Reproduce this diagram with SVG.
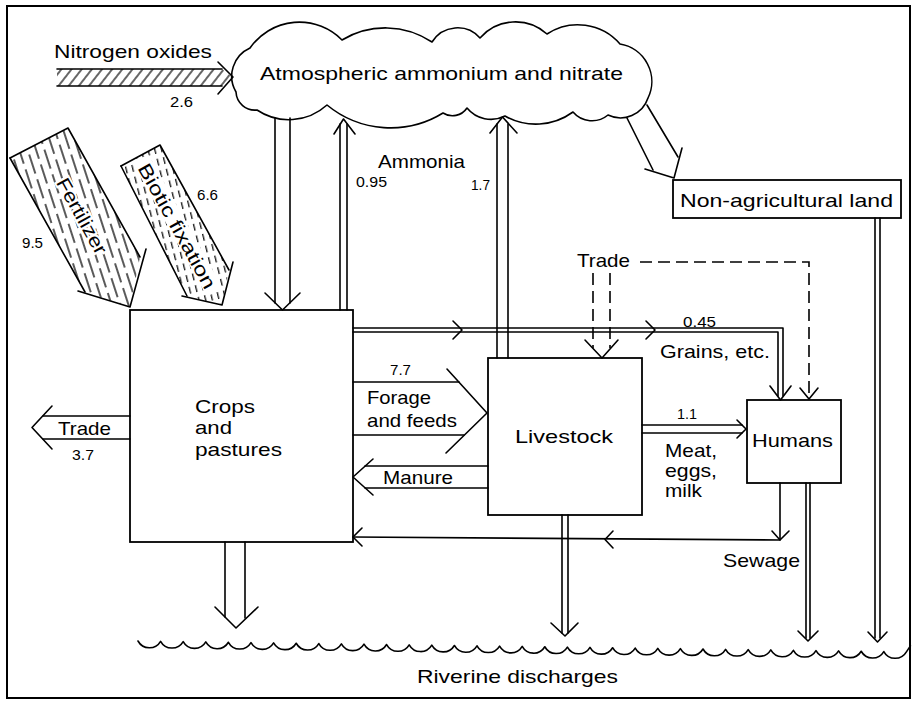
<svg xmlns="http://www.w3.org/2000/svg" width="915" height="708" viewBox="0 0 915 708">
<style>
.ln{stroke:#000;stroke-width:1.6;fill:none;stroke-linecap:round;stroke-linejoin:round}
.bx{stroke:#000;stroke-width:1.8;fill:#fff}
.ds{stroke:#000;stroke-width:1.6;fill:none;stroke-dasharray:12 6}
text{font-family:"Liberation Sans",Arial,Helvetica,sans-serif;fill:#000}
.lb{font-size:19px}
.nm{font-size:14px}
</style>
<defs>
<pattern id="hNO" patternUnits="userSpaceOnUse" width="8" height="20" patternTransform="rotate(38)">
<line x1="3" y1="0" x2="3" y2="20" stroke="#000" stroke-width="1.2"/>
</pattern>
<pattern id="hF" patternUnits="userSpaceOnUse" width="26" height="16" patternTransform="rotate(72)">
<line x1="0" y1="4" x2="20" y2="4" stroke="#000" stroke-width="1.3"/>
<line x1="13" y1="12" x2="26" y2="12" stroke="#000" stroke-width="1.3"/>
<line x1="0" y1="12" x2="7" y2="12" stroke="#000" stroke-width="1.3"/>
</pattern>
<pattern id="hB" patternUnits="userSpaceOnUse" width="12" height="6.5" patternTransform="rotate(76)">
<line x1="0" y1="3" x2="7" y2="3" stroke="#000" stroke-width="1.2"/>
</pattern>
</defs>
<rect x="0" y="0" width="915" height="708" fill="#fff"/>
<rect x="7" y="6" width="903" height="692" fill="none" stroke="#000" stroke-width="2"/>

<g id="atmosphere">
<path class="ln" fill="#fff" d="M236,92 A31,31 0 0 1 250,48 A60,60 0 0 1 342,40 A84,84 0 0 1 432,42 A30,30 0 0 1 480,38 A47,47 0 0 1 547,34 A56,56 0 0 1 620,44 A38,38 0 0 1 648,98 A29,29 0 0 1 608,115 A25,25 0 0 1 573,112 A63,63 0 0 1 505,116 A31,31 0 0 1 467,108 A17.5,17.5 0 0 1 443,113 A100,100 0 0 1 327,105 A57,57 0 0 1 257,110 A19,19 0 0 1 236,92 Z"/>
<text class="lb" x="260" y="80" textLength="363" lengthAdjust="spacingAndGlyphs">Atmospheric ammonium and nitrate</text>
</g>

<g id="crops">
<rect class="bx" x="130" y="310" width="223" height="232"/>
<text class="lb" x="195" y="413" textLength="60" lengthAdjust="spacingAndGlyphs">Crops</text>
<text class="lb" x="195" y="434" textLength="37" lengthAdjust="spacingAndGlyphs">and</text>
<text class="lb" x="195" y="456" textLength="87" lengthAdjust="spacingAndGlyphs">pastures</text>
</g>

<g id="livestock">
<rect class="bx" x="488" y="358" width="154" height="157"/>
<text class="lb" x="515" y="443" textLength="98" lengthAdjust="spacingAndGlyphs">Livestock</text>
</g>

<g id="humans">
<rect class="bx" x="747" y="400" width="94" height="83"/>
<text class="lb" x="752" y="447" textLength="81" lengthAdjust="spacingAndGlyphs">Humans</text>
</g>

<g id="nonag">
<rect class="bx" x="673" y="180" width="228" height="38"/>
<text class="lb" x="680" y="207" textLength="213" lengthAdjust="spacingAndGlyphs">Non-agricultural land</text>
</g>

<g id="riverine">
<path class="ln" d="M138,641 a13,13 0 0 0 22.6,0.32 a13,13 0 0 0 22.6,0.32 a13,13 0 0 0 22.6,0.32 a13,13 0 0 0 22.6,0.32 a13,13 0 0 0 22.6,0.32 a13,13 0 0 0 22.6,0.32 a13,13 0 0 0 22.6,0.32 a13,13 0 0 0 22.6,0.32 a13,13 0 0 0 22.6,0.32 a13,13 0 0 0 22.6,0.32 a13,13 0 0 0 22.6,0.32 a13,13 0 0 0 22.6,0.32 a13,13 0 0 0 22.6,0.32 a13,13 0 0 0 22.6,0.32 a13,13 0 0 0 22.6,0.32 a13,13 0 0 0 22.6,0.32 a13,13 0 0 0 22.6,0.32 a13,13 0 0 0 22.6,0.32 a13,13 0 0 0 22.6,0.32 a13,13 0 0 0 22.6,0.32 a13,13 0 0 0 22.6,0.32 a13,13 0 0 0 22.6,0.32 a13,13 0 0 0 22.6,0.32 a13,13 0 0 0 22.6,0.32 a13,13 0 0 0 22.6,0.32 a13,13 0 0 0 22.6,0.32 a13,13 0 0 0 22.6,0.32 a13,13 0 0 0 22.6,0.32 a13,13 0 0 0 22.6,0.32 a13,13 0 0 0 22.6,0.32 a13,13 0 0 0 22.6,0.32 a13,13 0 0 0 22.6,0.32 a13,13 0 0 0 22.6,0.32 a13,13 0 0 0 22.6,0.32 l4,-6"/>
<text class="lb" x="417" y="683" textLength="201" lengthAdjust="spacingAndGlyphs">Riverine discharges</text>
</g>

<g id="connectors">
<!-- Nitrogen oxides -->
<polygon points="57,69 222,69 232,77 222,86 57,86" fill="url(#hNO)" stroke="none"/>
<polyline class="ln" points="57,69 222,69"/>
<polyline class="ln" points="57,86 222,86"/>
<polyline class="ln" points="218,62 233,77 218,94"/>
<text class="lb" x="54" y="58" textLength="158" lengthAdjust="spacingAndGlyphs">Nitrogen oxides</text>
<text class="nm" x="170" y="107" textLength="23" lengthAdjust="spacingAndGlyphs">2.6</text>

<!-- Fertilizer -->
<polygon points="10,158 68,128 140,257 130,307 85,292" fill="url(#hF)" stroke="none"/>
<polyline class="ln" points="10,158 68,128 140,257"/>
<polyline class="ln" points="10,158 85,292"/>
<polyline class="ln" points="146,249 130,307 78,291"/>
<text class="lb" transform="translate(82,216) rotate(61)" text-anchor="middle" dy="0.35em" textLength="84" lengthAdjust="spacingAndGlyphs" stroke="#fff" stroke-width="4" paint-order="stroke">Fertilizer</text>
<text class="nm" x="22" y="248" textLength="21" lengthAdjust="spacingAndGlyphs">9.5</text>

<!-- Biotic fixation -->
<polygon points="121,166 160,145 229,270 222,305 187,296" fill="url(#hB)" stroke="none"/>
<rect x="-76" y="-9" width="152" height="18" fill="#fff" transform="translate(178,226) rotate(61)"/>
<polyline class="ln" points="121,166 160,145 229,270"/>
<polyline class="ln" points="121,166 187,296"/>
<polyline class="ln" points="233,262 222,305 182,296"/>
<text class="lb" transform="translate(177,226) rotate(61)" text-anchor="middle" dy="0.35em" textLength="140" lengthAdjust="spacingAndGlyphs">Biotic fixation</text>
<text class="nm" x="197" y="200" textLength="21" lengthAdjust="spacingAndGlyphs">6.6</text>

<!-- Atmosphere to crops -->
<line class="ln" x1="275" y1="118" x2="275" y2="303"/>
<line class="ln" x1="290" y1="118" x2="290" y2="303"/>
<polyline class="ln" points="265,293 282.5,310 300,293"/>

<!-- Ammonia from crops 0.95 -->
<line class="ln" x1="340" y1="310" x2="340" y2="124"/>
<line class="ln" x1="347" y1="310" x2="347" y2="124"/>
<polyline class="ln" points="334,134 343.5,119 355,134"/>
<text class="lb" x="378" y="168" textLength="87" lengthAdjust="spacingAndGlyphs">Ammonia</text>
<text class="nm" x="356" y="187" textLength="31" lengthAdjust="spacingAndGlyphs">0.95</text>

<!-- Ammonia from livestock 1.7 -->
<line class="ln" x1="497" y1="358" x2="497" y2="124"/>
<line class="ln" x1="508" y1="358" x2="508" y2="124"/>
<polyline class="ln" points="490,133 502.5,117 517,133"/>
<text class="nm" x="471" y="190" textLength="19" lengthAdjust="spacingAndGlyphs">1.7</text>

<!-- Atmosphere to non-agricultural land -->
<line class="ln" x1="627" y1="118" x2="653" y2="170"/>
<line class="ln" x1="647" y1="105" x2="678" y2="157"/>
<polyline class="ln" points="645,169 674,178 682,148"/>

<!-- Trade out of crops -->
<line class="ln" x1="130" y1="416" x2="43" y2="416"/>
<line class="ln" x1="130" y1="439" x2="43" y2="439"/>
<polyline class="ln" points="52,406 32,427.5 52,449"/>
<text class="lb" x="58" y="435" textLength="53" lengthAdjust="spacingAndGlyphs">Trade</text>
<text class="nm" x="72" y="460" textLength="22" lengthAdjust="spacingAndGlyphs">3.7</text>

<!-- Crops to river -->
<line class="ln" x1="225" y1="542" x2="225" y2="617"/>
<line class="ln" x1="245" y1="542" x2="245" y2="618"/>
<polyline class="ln" points="215,607 236,628 258,607"/>

<!-- Grains -->
<polyline class="ln" points="353,328 783,328 783,396"/>
<polyline class="ln" points="353,332 778,332 778,396"/>
<polyline class="ln" points="453,321 462,330 453,339"/>
<polyline class="ln" points="646,321 655,330 646,339"/>
<polyline class="ln" points="770,386 780.5,400 791,386"/>
<text class="nm" x="683" y="327" textLength="33" lengthAdjust="spacingAndGlyphs">0.45</text>
<text class="lb" x="660" y="358" textLength="110" lengthAdjust="spacingAndGlyphs">Grains, etc.</text>

<!-- Forage and feeds -->
<line class="ln" x1="353" y1="382" x2="459" y2="382"/>
<line class="ln" x1="353" y1="435" x2="464" y2="435"/>
<polyline class="ln" points="447,369 487,413 446,453"/>
<text class="nm" x="390" y="375" textLength="21" lengthAdjust="spacingAndGlyphs">7.7</text>
<text class="lb" x="367" y="404" textLength="64" lengthAdjust="spacingAndGlyphs">Forage</text>
<text class="lb" x="367" y="427" textLength="90" lengthAdjust="spacingAndGlyphs">and feeds</text>

<!-- Manure -->
<line class="ln" x1="488" y1="466" x2="365" y2="466"/>
<line class="ln" x1="488" y1="488" x2="365" y2="488"/>
<polyline class="ln" points="373,459 353,477 373,495"/>
<text class="lb" x="383" y="484" textLength="70" lengthAdjust="spacingAndGlyphs">Manure</text>

<!-- Livestock to river -->
<line class="ln" x1="562" y1="515" x2="562" y2="633"/>
<line class="ln" x1="568" y1="515" x2="568" y2="633"/>
<polyline class="ln" points="551,623 565,636 578,623"/>

<!-- Meat, eggs, milk -->
<line class="ln" x1="642" y1="425" x2="742" y2="425"/>
<line class="ln" x1="642" y1="433" x2="742" y2="433"/>
<polyline class="ln" points="737,420 746,429 737,438"/>
<text class="nm" x="677" y="419" textLength="20" lengthAdjust="spacingAndGlyphs">1.1</text>
<text class="lb" x="665" y="457" textLength="52" lengthAdjust="spacingAndGlyphs">Meat,</text>
<text class="lb" x="665" y="477" textLength="52" lengthAdjust="spacingAndGlyphs">eggs,</text>
<text class="lb" x="665" y="497" textLength="37" lengthAdjust="spacingAndGlyphs">milk</text>

<!-- Sewage -->
<polyline class="ln" points="780,483 780,540 353,537"/>
<polyline class="ln" points="772,531 780,540 789,531"/>
<polyline class="ln" points="613,531 605,539.5 613,548"/>
<polyline class="ln" points="362,528 353,537 362,546"/>
<text class="lb" x="723" y="567" textLength="77" lengthAdjust="spacingAndGlyphs">Sewage</text>

<!-- Humans to river -->
<line class="ln" x1="806" y1="483" x2="806" y2="638"/>
<line class="ln" x1="810" y1="483" x2="810" y2="638"/>
<polyline class="ln" points="798,631 808,641 818,631"/>

<!-- Non-agricultural land to river -->
<line class="ln" x1="875" y1="218" x2="875" y2="638"/>
<line class="ln" x1="880" y1="218" x2="880" y2="638"/>
<polyline class="ln" points="868,632 877.5,642 887,632"/>

<!-- Trade (dashed) -->
<text class="lb" x="577" y="267" textLength="53" lengthAdjust="spacingAndGlyphs">Trade</text>
<polyline class="ds" points="640,262 809,262 809,396"/>
<polyline class="ln" points="800,388 809,399 818,388"/>
<line class="ds" x1="593" y1="273" x2="593" y2="348"/>
<line class="ds" x1="610" y1="273" x2="610" y2="348"/>
<polyline class="ln" points="585,340 602,358 618,340"/>
</g>
</svg>
